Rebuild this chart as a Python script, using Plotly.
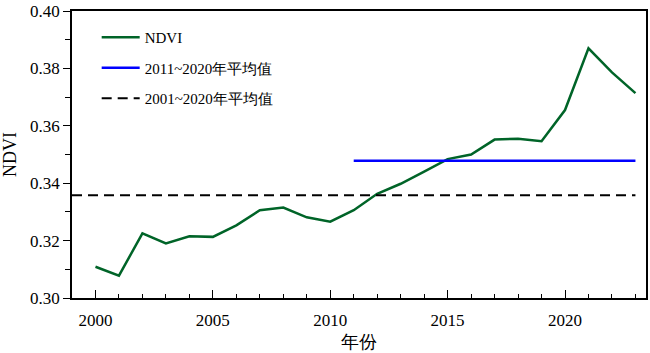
import plotly.graph_objects as go

years = list(range(2000, 2024))
ndvi = [0.3109, 0.3078, 0.3225, 0.3190, 0.3215, 0.3213, 0.3253, 0.3306, 0.3315, 0.3281,
        0.3266, 0.3306, 0.3363, 0.3398, 0.3440, 0.3484, 0.3500, 0.3552, 0.3555, 0.3546,
        0.3655, 0.3870, 0.3786, 0.3714]

mean_2011_2020 = 0.3478
mean_2001_2020 = 0.3358
blue_years = [2011, 2023]
dash_years = [1999, 2023]

x_range = [1999, 2023.45]
y_range = [0.30, 0.40]

serif = "Liberation Serif"

fig = go.Figure()
fig.add_trace(go.Scatter(x=years, y=ndvi, mode="lines", name="NDVI",
                         line=dict(color="#006428", width=2.5), legendgroup="a"))
fig.add_trace(go.Scatter(x=blue_years, y=[mean_2011_2020] * len(blue_years), mode="lines",
                         name="2011~2020年平均值", line=dict(color="#0000ff", width=2.5),
                         legendgroup="b"))
fig.add_trace(go.Scatter(x=dash_years, y=[mean_2001_2020] * len(dash_years), mode="lines",
                         name="2001~2020年平均值",
                         line=dict(color="black", width=2, dash="10px,6px"), legendgroup="c"))

fig.update_layout(
    width=650, height=353,
    margin=dict(l=72, r=2, t=10, b=55),
    paper_bgcolor="white", plot_bgcolor="white",
    font=dict(family=serif, size=17, color="black"),
    showlegend=True,
    legend=dict(x=0.043, y=0.965, xanchor="left", yanchor="top",
                font=dict(family=serif, size=15, color="black"),
                bgcolor="rgba(0,0,0,0)", tracegroupgap=8, itemwidth=38),
    xaxis=dict(range=x_range, showgrid=False, zeroline=False,
               tickmode="array", tickvals=[2000, 2005, 2010, 2015, 2020],
               ticks="inside", ticklen=8, tickwidth=1.2, tickcolor="black",
               minor=dict(dtick=1, tick0=2000, ticks="inside", ticklen=4, tickwidth=1.2, tickcolor="black"),
               showline=True, linecolor="black", linewidth=1.5, mirror=True,
               ticklabelstandoff=6,
               title=dict(text="年份", font=dict(size=18), standoff=6),
               tickfont=dict(size=17)),
    yaxis=dict(range=y_range, showgrid=False, zeroline=False,
               tickmode="array", tickvals=[0.30, 0.32, 0.34, 0.36, 0.38, 0.40],
               tickformat=".2f",
               ticks="outside", ticklen=7, tickwidth=1.2, tickcolor="black",
               minor=dict(dtick=0.01, tick0=0.30, ticks="outside", ticklen=5, tickwidth=1.2, tickcolor="black"),
               showline=True, linecolor="black", linewidth=1.5, mirror=True,
               title=dict(text="NDVI", font=dict(size=18), standoff=9),
               tickfont=dict(size=17)),
)

fig.write_html("out.html")
